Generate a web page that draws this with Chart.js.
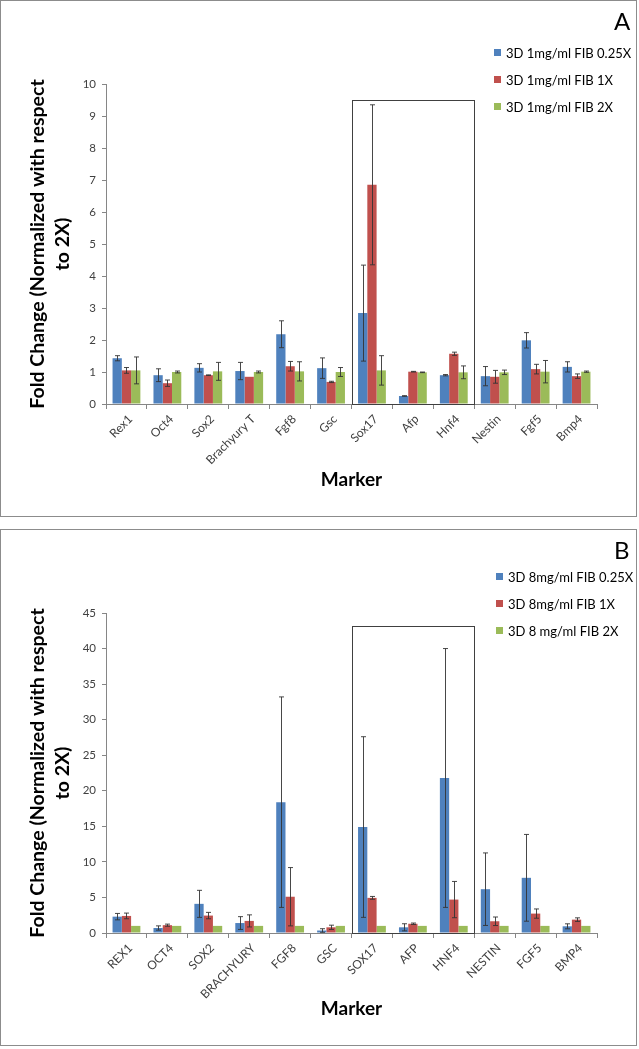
<!DOCTYPE html>
<html>
<head>
<meta charset="utf-8">
<script src="https://cdn.jsdelivr.net/npm/chart.js@4.4.0/dist/chart.umd.min.js"></script>
<style>
    body { margin: 0; background: #fff; font-family: Lato, sans-serif; }
    .panel { position: absolute; left: 0; width: 637px; height: 517px; box-sizing: border-box; border: 1px solid #8c8c8c; }
    .chartbox { position: absolute; left: 0; top: 0; width: 635px; height: 515px; }
    .tag { position: absolute; font-size: 24px; color: #000; line-height: 1; }
    .legend { position: absolute; font-size: 13px; color: #000; }
    .legend div { height: 27px; display: flex; align-items: center; white-space: nowrap; }
    .legend .sw { width: 7px; height: 7px; margin-right: 5px; display: inline-block; }
</style>
</head>
<body>

<div class="panel" style="top:0">
    <div class="chartbox"><canvas id="chartA"></canvas></div>
    <div class="tag" style="left:613px; top:8px;">A</div>
    <div class="legend" id="legendA" style="left:493px; top:38px;"></div>
</div>

<div class="panel" style="top:529px">
    <div class="chartbox"><canvas id="chartB"></canvas></div>
    <div class="tag" style="left:613px; top:8px;">B</div>
    <div class="legend" id="legendB" style="left:495px; top:33px;"></div>
</div>

<script>
// Panel A - 1 mg/ml fibrin
const markersA = ['Rex1', 'Oct4', 'Sox2', 'Brachyury T', 'Fgf8', 'Gsc', 'Sox17', 'Afp', 'Hnf4', 'Nestin', 'Fgf5', 'Bmp4'];
const seriesA = ['3D 1mg/ml FIB 0.25X', '3D 1mg/ml FIB 1X', '3D 1mg/ml FIB 2X'];
const a025 = [1.43, 0.90, 1.13, 1.03, 2.18, 1.12, 2.84, 0.25, 0.90, 0.87, 1.99, 1.16];
const a025Err = [0.08, 0.20, 0.13, 0.27, 0.42, 0.32, 1.50, 0.01, 0.02, 0.30, 0.24, 0.16];
const a1x = [1.05, 0.65, 0.90, 0.85, 1.18, 0.69, 6.85, 1.01, 1.57, 0.85, 1.09, 0.87];
const a1xErr = [0.09, 0.10, 0.01, 0.00, 0.15, 0.02, 2.50, 0.01, 0.05, 0.20, 0.15, 0.07];
const a2x = [1.05, 1.00, 1.02, 1.00, 1.02, 1.00, 1.05, 0.99, 0.99, 0.99, 1.01, 1.01];
const a2xErr = [0.42, 0.03, 0.28, 0.03, 0.30, 0.14, 0.46, 0.01, 0.20, 0.07, 0.35, 0.02];
const ticksA = { max: 10, step: 1 };
const boxTopA = 9.5;

// Panel B - 8 mg/ml fibrin
const markersB = ['REX1', 'OCT4', 'SOX2', 'BRACHYURY', 'FGF8', 'GSC', 'SOX17', 'AFP', 'HNF4', 'NESTIN', 'FGF5', 'BMP4'];
const seriesB = ['3D 8mg/ml FIB 0.25X', '3D 8mg/ml FIB 1X', '3D 8 mg/ml FIB 2X'];
const b025 = [2.3, 0.7, 4.1, 1.4, 18.4, 0.35, 14.9, 0.8, 21.8, 6.16, 7.76, 0.94];
const b025Err = [0.45, 0.3, 1.9, 0.9, 14.8, 0.25, 12.7, 0.5, 18.2, 5.1, 6.1, 0.35];
const b1x = [2.4, 1.1, 2.45, 1.7, 5.1, 0.8, 4.94, 1.3, 4.7, 1.65, 2.73, 1.88];
const b1xErr = [0.4, 0.15, 0.45, 0.85, 4.1, 0.3, 0.2, 0.1, 2.55, 0.6, 0.65, 0.25];
const b2x = [1, 1, 1, 1, 1, 1, 1, 1, 1, 1, 1, 1];
const b2xErr = [0, 0, 0, 0, 0, 0, 0, 0, 0, 0, 0, 0];
const ticksB = { max: 45, step: 5 };
const boxTopB = 43.2;

// boxed categories: Sox17 .. Hnf4
const boxFrom = 6;
const boxTo = 8;

const colors = ['#4F81BD', '#C0504D', '#9BBB59'];
const axisColor = '#868686';
const tickColor = '#404040';

// error bars drawn on top of the bars
const errorBarPlugin = {
    id: 'errorBars',
    afterDatasetsDraw(chart) {
        const ctx = chart.ctx;
        const yScale = chart.scales.y;
        ctx.save();
        ctx.strokeStyle = '#333';
        ctx.lineWidth = 0.9;
        chart.data.datasets.forEach((ds, i) => {
            const meta = chart.getDatasetMeta(i);
            meta.data.forEach((bar, j) => {
                const err = ds.errors[j];
                if (!err) return;
                const v = ds.data[j];
                const x = Math.round(bar.x) + 0.5;
                const yTop = yScale.getPixelForValue(v + err);
                const yBot = yScale.getPixelForValue(Math.max(0, v - err));
                ctx.beginPath();
                ctx.moveTo(x, yTop);
                ctx.lineTo(x, yBot);
                ctx.moveTo(x - 2.5, yTop);
                ctx.lineTo(x + 2.5, yTop);
                ctx.moveTo(x - 2.5, yBot);
                ctx.lineTo(x + 2.5, yBot);
                ctx.stroke();
            });
        });
        ctx.restore();
    }
};

// rectangle highlighting the endoderm markers
const boxPlugin = {
    id: 'markerBox',
    afterDatasetsDraw(chart, args, opts) {
        const ctx = chart.ctx;
        const xScale = chart.scales.x;
        const yScale = chart.scales.y;
        const half = (xScale.getPixelForValue(1) - xScale.getPixelForValue(0)) / 2;
        const left = Math.round(xScale.getPixelForValue(opts.from) - half) + 0.5;
        const right = Math.round(xScale.getPixelForValue(opts.to) + half) + 0.5;
        const top = Math.round(yScale.getPixelForValue(opts.top)) + 0.5;
        const bottom = Math.round(yScale.getPixelForValue(0)) + 0.5;
        ctx.save();
        ctx.strokeStyle = '#404040';
        ctx.lineWidth = 1;
        ctx.strokeRect(left, top, right - left, bottom - top);
        ctx.restore();
    }
};

function buildLegend(id, names) {
    const box = document.getElementById(id);
    names.forEach((name, i) => {
        const row = document.createElement('div');
        row.innerHTML = `<span class="sw" style="background:${colors[i]}"></span>${name}`;
        box.appendChild(row);
    });
}

function makeChart(canvasId, labels, names, values, errors, scale, boxTop) {
    const ctx = document.getElementById(canvasId).getContext('2d');
    return new Chart(ctx, {
        type: 'bar',
        data: {
            labels: labels,
            datasets: names.map((name, i) => ({
                label: name,
                data: values[i],
                errors: errors[i],
                backgroundColor: colors[i],
                borderWidth: 0,
                categoryPercentage: 0.68,
                barPercentage: 1.0
            }))
        },
        options: {
            responsive: true,
            maintainAspectRatio: false,
            animation: false,
            layout: { padding: { top: 83, right: 39, left: 0, bottom: 0 } },
            plugins: {
                legend: { display: false },
                tooltip: { enabled: false },
                markerBox: { from: boxFrom, to: boxTo, top: boxTop }
            },
            scales: {
                x: {
                    grid: { offset: true, drawOnChartArea: false, drawTicks: true, tickLength: 5, color: axisColor },
                    border: { color: axisColor },
                    ticks: { maxRotation: 45, minRotation: 45, color: tickColor, padding: 3, labelOffset: 4, font: { family: 'Lato', size: 12 } },
                    title: {
                        display: true, text: 'Marker', color: '#000',
                        font: { family: 'Lato', size: 19, weight: 'bold' },
                        padding: { top: 0, bottom: 25 }
                    },
                    afterFit: s => { s.height = 112; }
                },
                y: {
                    min: 0,
                    max: scale.max,
                    grid: { drawOnChartArea: false, tickLength: 4, color: axisColor },
                    border: { color: axisColor },
                    ticks: { stepSize: scale.step, color: tickColor, padding: 6, font: { family: 'Lato', size: 11.5 } },
                    title: {
                        display: true,
                        text: ['Fold Change (Normalized with respect', 'to 2X)'],
                        color: '#000',
                        font: { family: 'Lato', size: 19.5, weight: 'bold', lineHeight: 1.3 },
                        padding: { top: 24, bottom: 0 }
                    },
                    afterFit: s => { s.width = 105; }
                }
            }
        },
        plugins: [errorBarPlugin, boxPlugin]
    });
}

buildLegend('legendA', seriesA);
buildLegend('legendB', seriesB);

makeChart('chartA', markersA, seriesA, [a025, a1x, a2x], [a025Err, a1xErr, a2xErr], ticksA, boxTopA);
makeChart('chartB', markersB, seriesB, [b025, b1x, b2x], [b025Err, b1xErr, b2xErr], ticksB, boxTopB);
</script>
</body>
</html>
